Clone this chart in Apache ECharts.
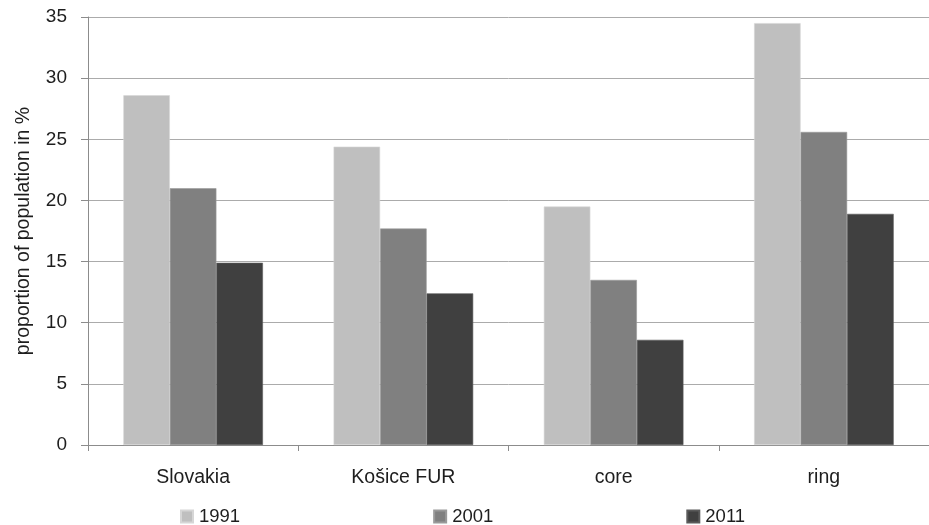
<!DOCTYPE html>
<html><head><meta charset="utf-8">
<script src="https://cdn.jsdelivr.net/npm/echarts@6/dist/echarts.min.js"></script>
<style>html,body{margin:0;padding:0;background:#fff}#c{width:929px;height:525px}</style>
</head><body><div id="c"></div>
<script>
const categories = ['Slovakia', 'Košice FUR', 'core', 'ring'];
const years = ['1991', '2001', '2011'];
const v1991 = [28.6, 24.4, 19.5, 34.5];
const v2001 = [21.0, 17.7, 13.5, 25.6];
const v2011 = [14.9, 12.4, 8.6, 18.9];
const colors = ['#bfbfbf', '#808080', '#404040'];
const yTicks = { min: 0, max: 35, interval: 5 };

const chart = echarts.init(document.getElementById('c'));
const font = 'Liberation Sans, Arial, sans-serif';
const txt = '#1e1e1e';
const data = [v1991, v2001, v2011];
chart.setOption({
  animation: false,
  grid: { left: 88, right: -4, top: 17, bottom: 80 },
  legend: {
    data: years, left: 175, top: 502, itemWidth: 12, itemHeight: 12, itemGap: 193,
    icon: 'rect', textStyle: { fontFamily: font, fontSize: 18.5, color: txt, padding: [0, 0, 0, 1] }
  },
  xAxis: {
    type: 'category', data: categories,
    axisLine: { lineStyle: { color: '#8c8c8c', width: 1 } },
    axisTick: { show: true, length: 6, lineStyle: { color: '#8c8c8c' } },
    axisLabel: { fontFamily: font, fontSize: 19.5, color: txt, margin: 23 }
  },
  yAxis: {
    type: 'value', min: yTicks.min, max: yTicks.max, interval: yTicks.interval,
    name: 'proportion of population in %', nameLocation: 'middle', nameGap: 54,
    nameTextStyle: { fontFamily: font, fontSize: 19.5, color: txt },
    axisLine: { show: true, lineStyle: { color: '#8c8c8c', width: 1 } },
    axisTick: { show: true, length: 7, lineStyle: { color: '#8c8c8c' } },
    axisLabel: { fontFamily: font, fontSize: 19, color: txt, margin: 21 },
    splitLine: { lineStyle: { color: '#ababab', width: 1 } }
  },
  series: years.map((y, i) => ({
    name: y, type: 'bar', data: data[i], barGap: '0%', barCategoryGap: '33.6%',
    itemStyle: { color: colors[i], borderColor: i === 0 ? '#d6d6d6' : (i === 1 ? '#9a9a9a' : '#5a5a5a'), borderWidth: 0.6 }
  }))
});
</script></body></html>
